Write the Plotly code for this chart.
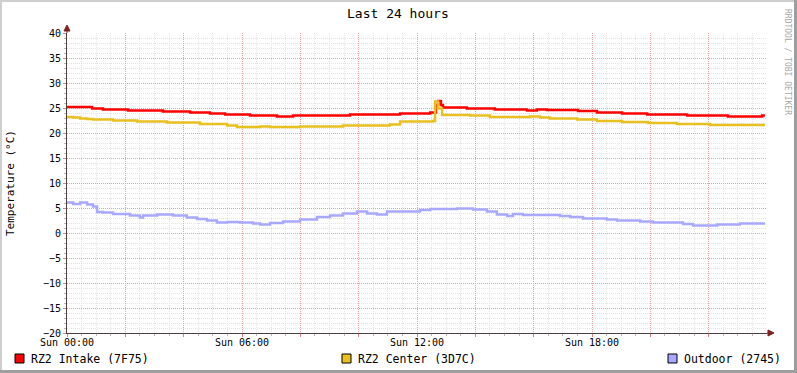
import plotly.graph_objects as go

# ---------------- data (hours since Sun 00:00, temperature °C) ----------------
intake_hours = [0.00, 0.86, 1.23, 2.09, 3.29, 4.22, 4.90, 5.42, 6.27, 7.20, 7.75, 9.70,
                11.42, 12.45, 12.65, 12.72, 12.82, 12.89, 13.71, 14.67, 15.77, 16.11,
                16.46, 17.52, 18.17, 19.03, 19.89, 21.26, 22.66, 23.83, 23.93]
intake_temp = [25.2, 24.9, 24.7, 24.5, 24.3, 24.1, 23.9, 23.7, 23.5, 23.3, 23.5, 23.7,
               23.9, 24.1, 25.6, 26.4, 25.6, 25.1, 24.9, 24.7, 24.5, 24.7,
               24.6, 24.4, 24.1, 23.9, 23.7, 23.5, 23.3, 23.5, 23.5]

center_hours = [0.00, 0.21, 0.45, 0.69, 0.89, 1.58, 2.40, 3.43, 4.56, 5.49, 5.83, 6.62,
                6.96, 7.99, 9.46, 11.07, 11.42, 12.55, 12.62, 12.72, 12.86, 13.82,
                14.50, 15.87, 16.22, 16.56, 17.49, 18.17, 19.03, 19.92, 20.91, 22.05, 23.93]
center_temp = [23.2, 23.1, 22.9, 22.8, 22.7, 22.5, 22.3, 22.1, 21.8, 21.5, 21.2, 21.3,
               21.2, 21.3, 21.5, 21.7, 22.3, 22.4, 26.3, 24.9, 23.6, 23.5,
               23.2, 23.3, 23.1, 22.9, 22.7, 22.4, 22.2, 22.0, 21.8, 21.6, 21.6]

outdoor_hours = [0.00, 0.21, 0.45, 0.69, 0.89, 1.03, 1.23, 1.58, 2.16, 2.50, 2.61, 3.09,
                 3.63, 4.11, 4.46, 4.80, 5.14, 5.49, 5.93, 6.38, 6.62, 6.96, 7.41, 7.99,
                 8.57, 9.02, 9.46, 9.94, 10.29, 10.63, 10.97, 12.10, 12.45, 13.37, 13.92,
                 14.40, 14.74, 15.09, 15.29, 15.63, 16.90, 17.25, 17.69, 18.51, 18.86,
                 19.65, 20.09, 21.12, 21.46, 22.29, 23.07, 23.93]
outdoor_temp = [6.1, 5.8, 6.1, 5.7, 5.3, 4.2, 4.1, 3.8, 3.5, 3.1, 3.5, 3.7,
                3.5, 3.1, 2.8, 2.5, 2.1, 2.2, 2.1, 1.9, 1.7, 2.0, 2.3, 2.7,
                3.2, 3.5, 3.9, 4.3, 3.9, 3.7, 4.3, 4.6, 4.8, 4.9, 4.7,
                4.3, 3.7, 3.4, 3.8, 3.6, 3.4, 3.2, 2.9, 2.7, 2.5,
                2.3, 2.1, 1.8, 1.5, 1.7, 1.9, 1.9]

x_tick_hours = [0, 2, 4, 6, 8, 10, 12, 14, 16, 18, 20, 22]
x_tick_text = ["Sun 00:00", "", "", "Sun 06:00", "", "", "Sun 12:00", "", "", "Sun 18:00", "", ""]

series_names = ["RZ2 Intake (7F75)", "RZ2 Center (3D7C)", "Outdoor (2745)"]
series_colors = ["#FF0000", "#E8C020", "#A8A8FF"]

# ---------------- layout geometry (pixels) ----------------
W, H = 797, 373
PL, PR, PT, PB = 67, 767, 33, 333
FONT = "DejaVu Sans Mono"


def px(x):
    return (x - PL) / (PR - PL)


def py(y):
    return (PB - y) / (PB - PT)


fig = go.Figure()
for hrs, vals, name, col in zip([intake_hours, center_hours, outdoor_hours],
                                [intake_temp, center_temp, outdoor_temp],
                                series_names, series_colors):
    fig.add_trace(go.Scatter(x=hrs, y=vals, mode="lines", name=name,
                             line=dict(color=col, width=2.5, shape="hv"),
                             showlegend=False))

major_grid = "#EBA0A0"
minor_grid = "#E3E3E3"
axis_col = "#4A4040"

x_minor = [i * 0.5 for i in range(1, 48) if (i * 0.5) % 2 != 0]
y_minor = [v for v in range(-19, 40) if v % 5 != 0]

fig.update_xaxes(range=[0, 24], tickmode="array", tickvals=x_tick_hours, ticktext=x_tick_text,
                 showgrid=True, gridcolor=major_grid, griddash="1px,1px", gridwidth=1,
                 zeroline=False, showline=True, linecolor=axis_col, linewidth=1,
                 ticks="outside", ticklen=3, tickcolor="#E08080",
                 ticklabelstandoff=-3,
                 tickfont=dict(family=FONT, size=10, color="#000"),
                 minor=dict(tickmode="array", tickvals=x_minor, showgrid=True,
                            gridcolor=minor_grid, griddash="1px,1px", gridwidth=1,
                            ticks="outside", ticklen=2, tickcolor="#B8B8B8"),
                 fixedrange=True)
fig.update_yaxes(range=[-20, 40], tickmode="linear", tick0=-20, dtick=5,
                 showgrid=True, gridcolor=major_grid, griddash="1px,1px", gridwidth=1,
                 zeroline=False, showline=True, linecolor=axis_col, linewidth=1,
                 ticks="outside", ticklen=3, tickcolor="#E08080",
                 tickfont=dict(family=FONT, size=10, color="#000"),
                 minor=dict(tickmode="array", tickvals=y_minor, showgrid=True,
                            gridcolor=minor_grid, griddash="1px,1px", gridwidth=1,
                            ticks="outside", ticklen=2, tickcolor="#B8B8B8"),
                 fixedrange=True)

shapes = []
# frame shading
shapes.append(dict(type="rect", xref="paper", yref="paper", x0=px(0), x1=px(W), y0=py(0), y1=py(2),
                   fillcolor="#CFCFCF", line=dict(width=0), layer="below"))
shapes.append(dict(type="rect", xref="paper", yref="paper", x0=px(0), x1=px(2), y0=py(0), y1=py(H),
                   fillcolor="#CFCFCF", line=dict(width=0), layer="below"))
shapes.append(dict(type="rect", xref="paper", yref="paper", x0=px(W - 3), x1=px(W), y0=py(0), y1=py(H),
                   fillcolor="#9E9E9E", line=dict(width=0), layer="below"))
shapes.append(dict(type="rect", xref="paper", yref="paper", x0=px(0), x1=px(W), y0=py(H - 3), y1=py(H),
                   fillcolor="#9E9E9E", line=dict(width=0), layer="below"))
# axis arrows
shapes.append(dict(type="line", xref="paper", yref="paper", x0=px(PL), x1=px(PL), y0=py(PT), y1=py(29),
                   line=dict(color=axis_col, width=1)))
shapes.append(dict(type="path", xref="paper", yref="paper",
                   path=f"M {px(PL)} {py(25)} L {px(PL - 3)} {py(31)} L {px(PL + 3)} {py(31)} Z",
                   fillcolor="#7F1F1F", line=dict(color="#7F1F1F", width=1)))
shapes.append(dict(type="line", xref="paper", yref="paper", x0=px(PR), x1=px(769), y0=py(PB), y1=py(PB),
                   line=dict(color=axis_col, width=1)))
shapes.append(dict(type="path", xref="paper", yref="paper",
                   path=f"M {px(774)} {py(PB)} L {px(768)} {py(PB - 3)} L {px(768)} {py(PB + 3)} Z",
                   fillcolor="#7F1F1F", line=dict(color="#7F1F1F", width=1)))

annotations = []
# legend
legend_x = [15, 342, 668]
for lx, name, col in zip(legend_x, series_names, series_colors):
    shapes.append(dict(type="rect", xref="paper", yref="paper", x0=px(lx), x1=px(lx + 9),
                       y0=py(354), y1=py(363), fillcolor=col, line=dict(color="#000", width=1)))
    annotations.append(dict(x=px(lx + 14), y=py(358.5), xref="paper", yref="paper", text=name,
                            showarrow=False, xanchor="left", yanchor="middle",
                            font=dict(family=FONT, size=11.5, color="#000")))
# title
annotations.append(dict(x=px(398), y=py(13), xref="paper", yref="paper", text="Last 24 hours",
                        showarrow=False, xanchor="center", yanchor="middle",
                        font=dict(family=FONT, size=13, color="#000")))
# y title
annotations.append(dict(x=px(10), y=py(183), xref="paper", yref="paper", text="Temperature (°C)",
                        showarrow=False, xanchor="center", yanchor="middle", textangle=-90,
                        font=dict(family=FONT, size=11, color="#000")))
# watermark
annotations.append(dict(x=px(788), y=py(62), xref="paper", yref="paper", text="RRDTOOL / TOBI OETIKER",
                        showarrow=False, xanchor="center", yanchor="middle", textangle=90,
                        font=dict(family=FONT, size=8, color="#A8A8A8")))

fig.update_layout(width=W, height=H, margin=dict(l=PL, r=W - PR, t=PT, b=H - PB),
                  paper_bgcolor="#FFFFFF", plot_bgcolor="#FFFFFF",
                  shapes=shapes, annotations=annotations, showlegend=False,
                  hovermode=False)

fig.write_html("out.html", config={"displayModeBar": False},
               post_script="document.body.style.margin='0';document.body.style.padding='0';")
